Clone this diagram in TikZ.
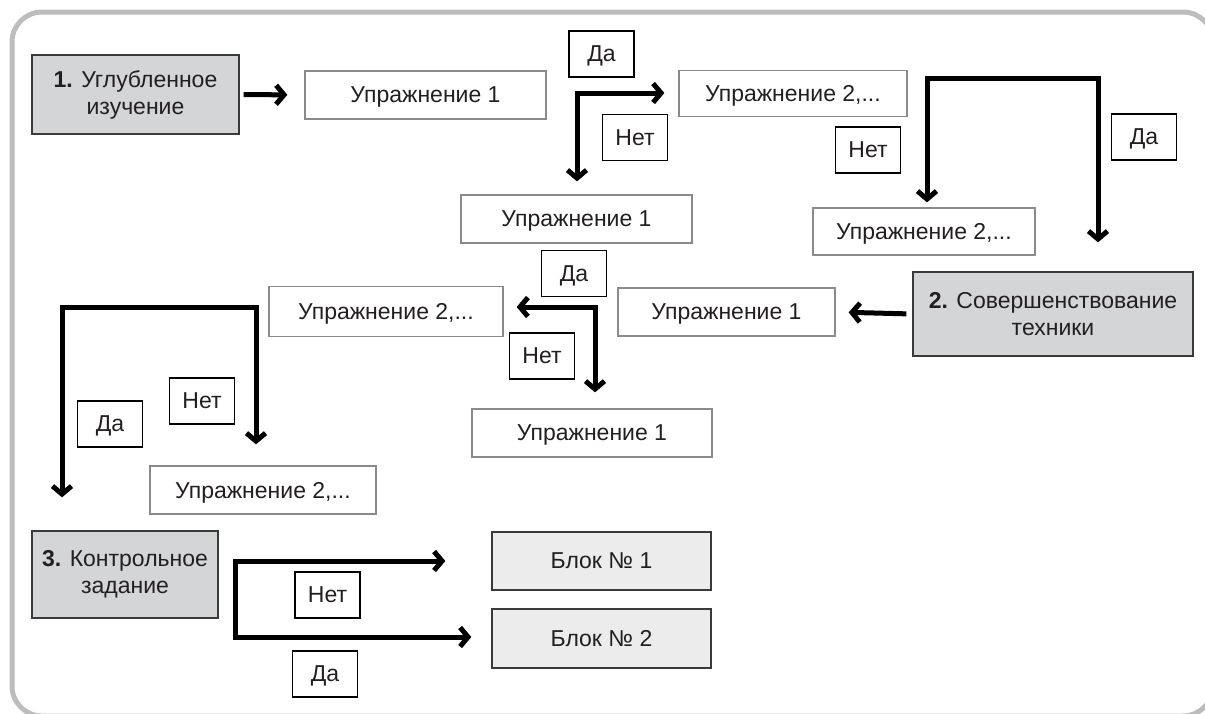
\documentclass[tikz,border=0pt]{standalone}
\usepackage{fontspec}
\setmainfont{Liberation Sans}
\usetikzlibrary{arrows.meta}
\definecolor{framec}{HTML}{BDBDBD}
\definecolor{txt}{HTML}{231F20}
\definecolor{exb}{HTML}{8A8A8A}
\definecolor{stageb}{HTML}{3A3A3A}
\definecolor{stagef}{HTML}{D4D5D6}
\definecolor{blockf}{HTML}{ECECEC}
\begin{document}
\begin{tikzpicture}[x=1pt,y=-1pt,
  every node/.style={font=\fontsize{23}{27}\selectfont, text=txt, inner sep=0pt},
  ex/.style={draw=exb, line width=1.3pt, fill=white, minimum height=48pt, text depth=0pt},
  stage/.style={draw=stageb, line width=1.3pt, fill=stagef, align=center},
  block/.style={draw=stageb, line width=1.3pt, fill=blockf, text depth=0pt},
  lab/.style={draw=black, line width=1.1pt, fill=white, minimum width=65pt, minimum height=46pt, text depth=0pt},
  tip/.tip={Straight Barb[length=8pt,width=19pt,line width=5pt]},
  arr/.style={line width=5pt, black, -tip},
  arrb/.style={line width=5pt, black, tip-tip}
]
\clip (0,0) rectangle (1205,713);
\useasboundingbox (0,0) rectangle (1205,713);
\draw[framec, line width=5pt, rounded corners=30pt] (12,12) rectangle (1213,716);

% stage boxes
\node[stage, minimum width=207pt, minimum height=79pt] (b1) at (135.5,94.5) {\textbf{1.} Углубленное\\изучение};
\node[stage, minimum width=280pt, minimum height=84pt] (b2) at (1053,314) {\textbf{2.} Совершенствование\\техники};
\node[stage, minimum width=186pt, minimum height=87pt] (b3) at (125,574.5) {\textbf{3.} Контрольное\\задание};

% exercise boxes
\node[ex, minimum width=241pt] (u1a) at (425.5,95) {Упражнение 1};
\node[ex, minimum width=228pt, minimum height=46pt] (u2a) at (793,93.5) {Упражнение 2,...};
\node[ex, minimum width=231pt] (u1c) at (576.5,219) {Упражнение 1};
\node[ex, minimum width=222pt, minimum height=47pt] (u2b) at (924,231.5) {Упражнение 2,...};
\node[ex, minimum width=217pt] (u1b) at (726.5,312) {Упражнение 1};
\node[ex, minimum width=234pt, minimum height=50pt] (u2c) at (386,311.5) {Упражнение 2,...};
\node[ex, minimum width=240pt] (u1d) at (592,433) {Упражнение 1};
\node[ex, minimum width=226pt] (u2d) at (263,490) {Упражнение 2,...};

% blocks
\node[block, minimum width=219pt, minimum height=58pt] (bl1) at (601.5,561) {Блок № 1};
\node[block, minimum width=219pt, minimum height=59pt] (bl2) at (601.5,638.5) {Блок № 2};

% labels
\node[lab] (da1) at (601.5,54) {Да};
\node[lab] (net1) at (635,137.5) {Нет};
\node[lab] (net2) at (868,150) {Нет};
\node[lab] (da2) at (1144,137) {Да};
\node[lab] (da3) at (574,273.5) {Да};
\node[lab] (net3) at (542,356) {Нет};
\node[lab] (net4) at (202,401) {Нет};
\node[lab] (da4) at (110,424) {Да};
\node[lab] (net5) at (327.5,595) {Нет};
\node[lab] (da5) at (325,674) {Да};

% corner coordinates
\coordinate (c1) at (577,93);
\coordinate (c2) at (927,78);
\coordinate (c3) at (1098,78);
\coordinate (c4) at (595,307);
\coordinate (c5) at (62,307);
\coordinate (c6) at (256,307);
\coordinate (c7) at (235,561);
\coordinate (c8) at (235,637);

% connectors
\draw[arr, shorten <=4pt, shorten >=17pt] (b1.east) -- (u1a.west);
\draw[arrb] ([yshift=13pt]u1c.north -| c1) -- (c1) -- ([xshift=-14pt]u2a.west |- c1);
\draw[arrb] ([yshift=5pt]u2b.north -| c2) -- (c2) -- (c3) -- ([yshift=29pt]b2.north -| c3);
\draw[arr, shorten <=6pt, shorten >=13pt] (b2.west) -- (u1b.east);
\draw[arrb] ([xshift=13pt]u2c.east |- c4) -- (c4) -- ([yshift=16pt]u1d.north -| c4);
\draw[arrb] ([yshift=33pt]b3.north -| c5) -- (c5) -- (c6) -- ([yshift=21pt]u2d.north -| c6);
\draw[arrb] ([xshift=-46pt]bl1.west |- c7) -- (c7) -- (c8) -- ([xshift=-20pt]bl2.west |- c8);
\end{tikzpicture}
\end{document}
